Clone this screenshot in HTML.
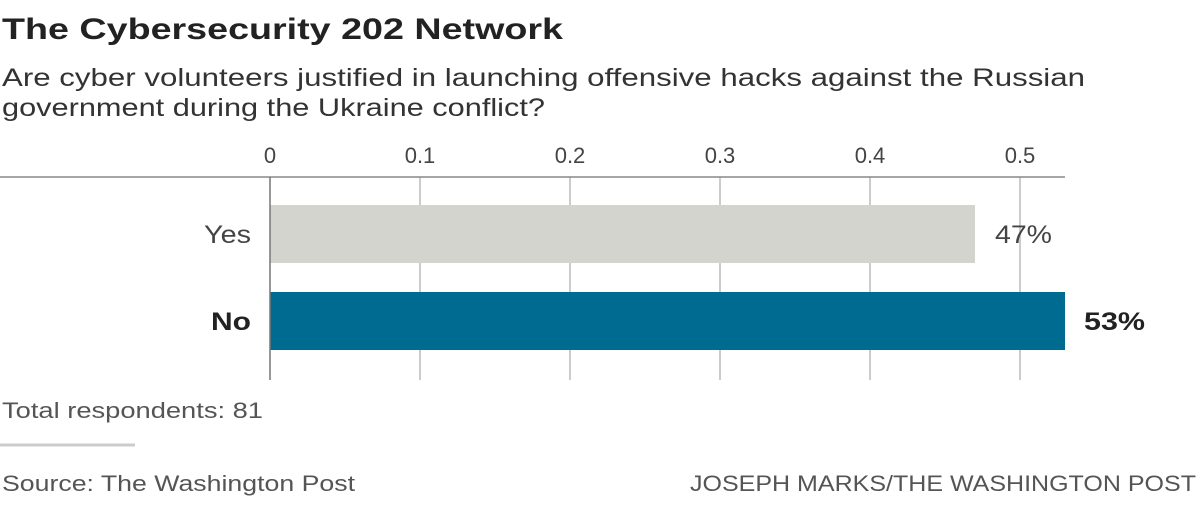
<!DOCTYPE html>
<html><head><meta charset="utf-8"><style>
body{margin:0;width:1199px;height:526px;background:#fff;font-family:"Liberation Sans",Arial,sans-serif;overflow:hidden}
svg{position:absolute;left:0;top:0}
</style></head><body>
<svg width="1199" height="526" font-family="Liberation Sans,Arial,sans-serif">
<text x="2" y="39" font-size="30" font-weight="bold" fill="#222" textLength="561" lengthAdjust="spacingAndGlyphs">The Cybersecurity 202 Network</text>
<text x="2" y="86" font-size="25" fill="#333" textLength="1083" lengthAdjust="spacingAndGlyphs">Are cyber volunteers justified in launching offensive hacks against the Russian</text>
<text x="2" y="116" font-size="25" fill="#333" textLength="543" lengthAdjust="spacingAndGlyphs">government during the Ukraine conflict?</text>
<g font-size="22" fill="#444" text-anchor="middle">
<text x="270" y="163">0</text><text x="420" y="163">0.1</text><text x="570" y="163">0.2</text><text x="720" y="163">0.3</text><text x="870" y="163">0.4</text><text x="1020" y="163">0.5</text>
</g>
<g stroke="#ccc" stroke-width="2">
<line x1="420" y1="177" x2="420" y2="380"/><line x1="570" y1="177" x2="570" y2="380"/><line x1="720" y1="177" x2="720" y2="380"/><line x1="870" y1="177" x2="870" y2="380"/><line x1="1020" y1="177" x2="1020" y2="380"/>
</g>
<line x1="0" y1="177" x2="1065" y2="177" stroke="#888" stroke-width="1.5"/>
<rect x="270" y="205" width="705" height="58" fill="#d4d4cf"/>
<rect x="270" y="292" width="795" height="58" fill="#006b91"/>
<line x1="270" y1="177" x2="270" y2="380" stroke="#777" stroke-width="1.5"/>
<g font-size="25">
<text x="204" y="243" fill="#444" textLength="47" lengthAdjust="spacingAndGlyphs">Yes</text>
<text x="211" y="330" fill="#222" font-weight="bold" textLength="40" lengthAdjust="spacingAndGlyphs">No</text>
<text x="995" y="243" fill="#444" textLength="57" lengthAdjust="spacingAndGlyphs">47%</text>
<text x="1084" y="330" fill="#222" font-weight="bold" textLength="61" lengthAdjust="spacingAndGlyphs">53%</text>
</g>
<line x1="0" y1="445" x2="135" y2="445" stroke="#ccc" stroke-width="3"/>
<g font-size="22" fill="#555">
<text x="2" y="418" textLength="261" lengthAdjust="spacingAndGlyphs">Total respondents: 81</text>
<text x="2" y="491" textLength="353" lengthAdjust="spacingAndGlyphs">Source: The Washington Post</text>
<text x="690" y="491" textLength="506" lengthAdjust="spacingAndGlyphs">JOSEPH MARKS/THE WASHINGTON POST</text>
</g>
</svg>
</body></html>
